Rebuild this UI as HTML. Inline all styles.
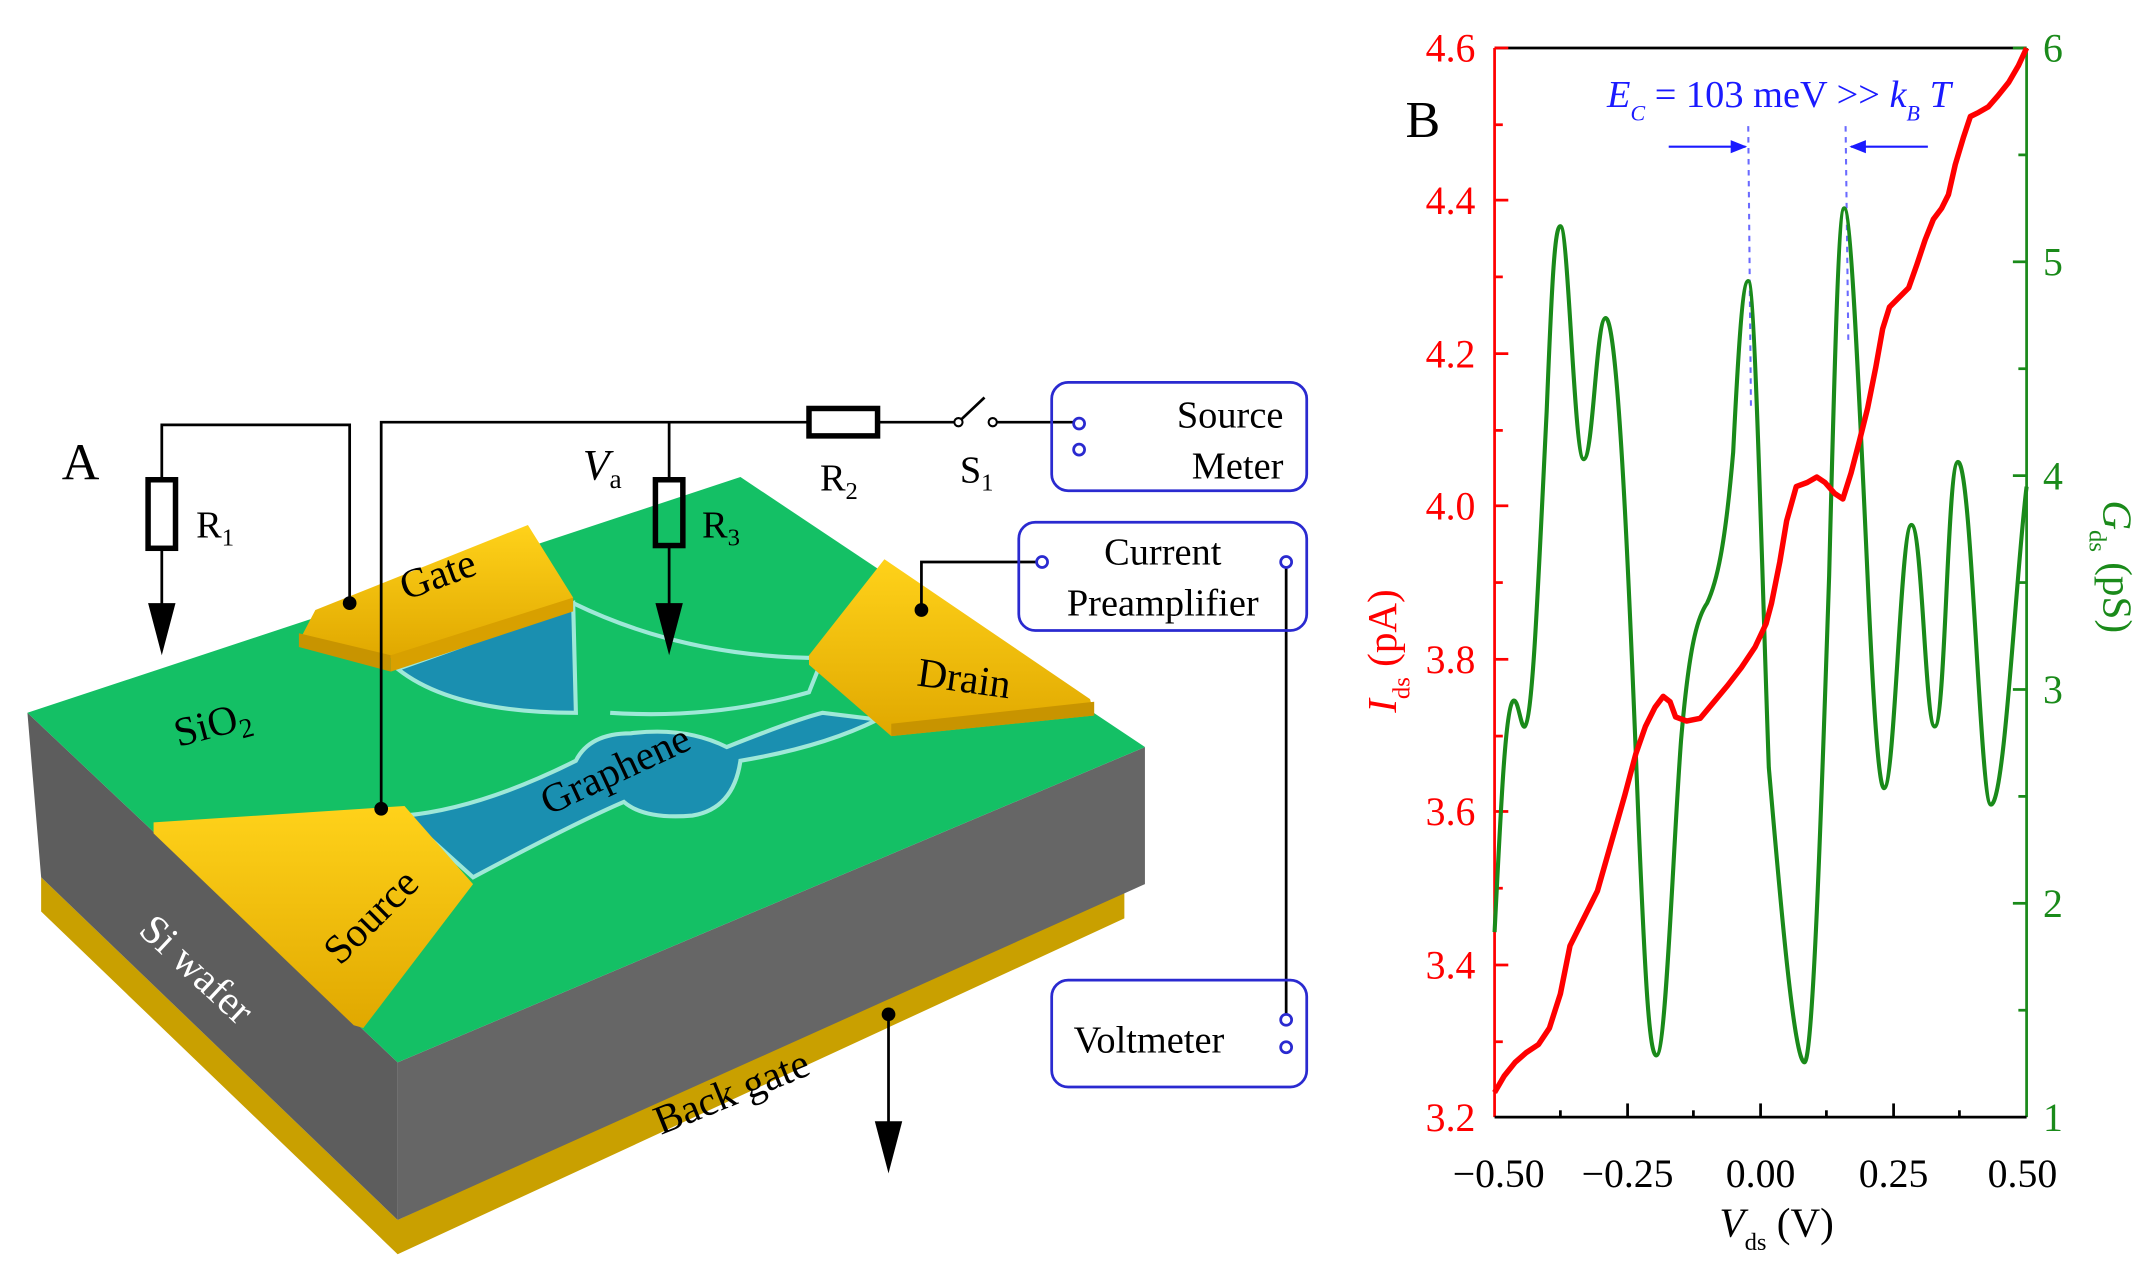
<!DOCTYPE html>
<html><head><meta charset="utf-8"><style>
html,body{margin:0;padding:0;background:#fff;}
svg{display:block;}
text{font-family:"Liberation Serif",serif;}
</style></head><body>
<svg width="2150" height="1283" viewBox="0 0 1568 936" preserveAspectRatio="none" xmlns="http://www.w3.org/2000/svg">
<defs>
<linearGradient id="gold" x1="0" y1="0" x2="0" y2="1"><stop offset="0" stop-color="#ffd21a"/><stop offset="1" stop-color="#e0a800"/></linearGradient>
<marker id="ah" viewBox="0 0 10 10" refX="9" refY="5" markerWidth="8" markerHeight="8" orient="auto"><path d="M0,1 L10,5 L0,9 z" fill="#1a1aff"/></marker>
</defs>
<polygon points="30,640 290,890 820,645 820,670 290,915 30,665" fill="#c9a000"/>
<polygon points="20,520 290,775 290,890 30,640" fill="#5d5d5d"/>
<polygon points="290,775 835,545 835,645 290,890" fill="#666"/>
<polygon points="20,520 540,348 835,545 290,775" fill="#14c065"/>
<path d="M290,488 Q330,520 420,520 L418,440 Q370,460 290,488 z" fill="#1a8fb0" stroke="#9fe8d8" stroke-width="3"/>
<path d="M295,595 Q350,590 420,555 Q430,535 460,535 Q500,530 530,545 Q580,525 600,520 L640,525 Q600,545 540,555 Q535,590 505,595 Q470,598 455,585 Q420,600 345,640 z" fill="#1a8fb0" stroke="#9fe8d8" stroke-width="3"/>
<path d="M418,440 Q500,480 600,480 L590,505 Q520,525 445,520" fill="none" stroke="#9fe8d8" stroke-width="3"/>
<polygon points="230,445 385,383 418,436 410,442 285,480 218,468" fill="url(#gold)"/>
<polygon points="218,462 285,478 285,490 218,472" fill="#c89400"/>
<polygon points="285,478 418,436 418,446 285,490" fill="#d8a000"/>
<polygon points="112,600 295,588 345,645 265,750 258,748 112,608" fill="url(#gold)"/>
<polygon points="590,478 645,408 795,510 798,522 650,537 590,485" fill="url(#gold)"/>
<polygon points="650,528 798,512 798,522 650,537" fill="#c89400"/>
<text x="45" y="350" font-size="38">A</text>
<text x="0" y="0" font-size="30" transform="translate(296,438) rotate(-20)">Gate</text>
<text x="0" y="0" font-size="30" transform="translate(668,500) rotate(8)">Drain</text>
<text x="0" y="0" font-size="30" transform="translate(130,545) rotate(-15)">SiO<tspan font-size="20" dy="6">2</tspan></text>
<text x="0" y="0" font-size="30" transform="translate(400,595) rotate(-25)">Graphene</text>
<text x="0" y="0" font-size="30" transform="translate(248,705) rotate(-45)">Source</text>
<text x="0" y="0" font-size="30" fill="#fff" transform="translate(100,680) rotate(43)">Si wafer</text>
<text x="0" y="0" font-size="30" transform="translate(482,828) rotate(-22)">Back gate</text>
<g stroke="#000" stroke-width="2" fill="none">
<polyline points="255,440 255,310 118,310 118,350"/>
<rect x="108" y="350" width="20" height="50" stroke-width="4"/>
<line x1="118" y1="400" x2="118" y2="445"/>
<polyline points="278,590 278,308 590,308"/>
<rect x="590" y="298" width="50" height="20" stroke-width="4"/>
<line x1="640" y1="308" x2="697" y2="308"/>
<line x1="700" y1="307" x2="718" y2="290"/>
<line x1="724" y1="308" x2="783" y2="308"/>
<line x1="488" y1="308" x2="488" y2="350"/>
<rect x="478" y="350" width="20" height="48" stroke-width="4"/>
<line x1="488" y1="398" x2="488" y2="445"/>
<polyline points="672,445 672,410 756,410"/>
<line x1="938" y1="414" x2="938" y2="740"/>
<line x1="648" y1="740" x2="648" y2="820"/>
</g>
<circle cx="699" cy="308" r="3" fill="#fff" stroke="#000" stroke-width="1.5"/>
<circle cx="724" cy="308" r="3" fill="#fff" stroke="#000" stroke-width="1.5"/>
<polygon points="108,440 128,440 118,478" fill="#000"/>
<polygon points="478,440 498,440 488,478" fill="#000"/>
<polygon points="638,818 658,818 648,856" fill="#000"/>
<g fill="#000"><circle cx="255" cy="440" r="5"/><circle cx="278" cy="590" r="5"/><circle cx="672" cy="445" r="5"/><circle cx="648" cy="740" r="5"/></g>
<text x="15" y="0" font-size="28" transform="translate(128,392)">R<tspan font-size="18" dy="6">1</tspan></text>
<text x="512" y="392" font-size="28">R<tspan font-size="18" dy="6">3</tspan></text>
<text x="598" y="358" font-size="28">R<tspan font-size="18" dy="6">2</tspan></text>
<text x="700" y="352" font-size="28">S<tspan font-size="18" dy="6">1</tspan></text>
<text x="425" y="350" font-size="32" font-style="italic">V<tspan font-size="20" font-style="normal" dy="6">a</tspan></text>
<g stroke="#2a2ad0" stroke-width="2" fill="none">
<rect x="767" y="279" width="186" height="79" rx="12"/>
<rect x="743" y="381" width="210" height="79" rx="12"/>
<rect x="767" y="715" width="186" height="78" rx="12"/>
<circle cx="787" cy="309" r="4"/><circle cx="787" cy="328" r="4"/>
<circle cx="760" cy="410" r="4"/><circle cx="938" cy="410" r="4"/>
<circle cx="938" cy="744" r="4"/><circle cx="938" cy="764" r="4"/>
</g>
<text x="936" y="312" font-size="28" text-anchor="end">Source</text>
<text x="936" y="349" font-size="28" text-anchor="end">Meter</text>
<text x="848" y="412" font-size="28" text-anchor="middle">Current</text>
<text x="848" y="449" font-size="28" text-anchor="middle">Preamplifier</text>
<text x="783" y="768" font-size="28">Voltmeter</text>
<line x1="1090" y1="35" x2="1478" y2="35" stroke="#000" stroke-width="2"/>
<line x1="1090" y1="35" x2="1090" y2="815" stroke="#f00" stroke-width="2"/>
<line x1="1478" y1="35" x2="1478" y2="815" stroke="#1a8a1a" stroke-width="2"/>
<line x1="1090" y1="815" x2="1478" y2="815" stroke="#000" stroke-width="2"/>
<g stroke="#f00" stroke-width="2">
<line x1="1090" y1="35" x2="1100" y2="35"/><line x1="1090" y1="91" x2="1096" y2="91"/>
<line x1="1090" y1="146" x2="1100" y2="146"/><line x1="1090" y1="202" x2="1096" y2="202"/>
<line x1="1090" y1="258" x2="1100" y2="258"/><line x1="1090" y1="314" x2="1096" y2="314"/>
<line x1="1090" y1="369" x2="1100" y2="369"/><line x1="1090" y1="425" x2="1096" y2="425"/>
<line x1="1090" y1="481" x2="1100" y2="481"/><line x1="1090" y1="537" x2="1096" y2="537"/>
<line x1="1090" y1="592" x2="1100" y2="592"/><line x1="1090" y1="648" x2="1096" y2="648"/>
<line x1="1090" y1="704" x2="1100" y2="704"/><line x1="1090" y1="760" x2="1096" y2="760"/>
</g>
<g stroke="#1a8a1a" stroke-width="2">
<line x1="1468" y1="35" x2="1478" y2="35"/><line x1="1472" y1="113" x2="1478" y2="113"/>
<line x1="1468" y1="191" x2="1478" y2="191"/><line x1="1472" y1="269" x2="1478" y2="269"/>
<line x1="1468" y1="347" x2="1478" y2="347"/><line x1="1472" y1="425" x2="1478" y2="425"/>
<line x1="1468" y1="503" x2="1478" y2="503"/><line x1="1472" y1="581" x2="1478" y2="581"/>
<line x1="1468" y1="659" x2="1478" y2="659"/><line x1="1472" y1="737" x2="1478" y2="737"/>
</g>
<g stroke="#000" stroke-width="2">
<line x1="1187" y1="815" x2="1187" y2="805"/><line x1="1284" y1="815" x2="1284" y2="805"/>
<line x1="1381" y1="815" x2="1381" y2="805"/>
<line x1="1138" y1="815" x2="1138" y2="810"/><line x1="1235" y1="815" x2="1235" y2="810"/>
<line x1="1332" y1="815" x2="1332" y2="810"/><line x1="1429" y1="815" x2="1429" y2="810"/>
</g>
<g fill="#f00" font-size="29" text-anchor="end">
<text x="1076" y="45">4.6</text><text x="1076" y="156">4.4</text><text x="1076" y="268">4.2</text>
<text x="1076" y="379">4.0</text><text x="1076" y="491">3.8</text><text x="1076" y="602">3.6</text>
<text x="1076" y="714">3.4</text><text x="1076" y="825">3.2</text>
</g>
<g fill="#1a8a1a" font-size="29">
<text x="1490" y="45">6</text><text x="1490" y="201">5</text><text x="1490" y="357">4</text>
<text x="1490" y="513">3</text><text x="1490" y="669">2</text><text x="1490" y="825">1</text>
</g>
<g font-size="29" text-anchor="middle">
<text x="1093" y="866">−0.50</text><text x="1187" y="866">−0.25</text><text x="1284" y="866">0.00</text>
<text x="1381" y="866">0.25</text><text x="1475" y="866">0.50</text>
</g>
<text x="1254" y="902" font-size="30"><tspan font-style="italic">V</tspan><tspan font-size="18" dy="10">ds</tspan><tspan dy="-10"> (V)</tspan></text>
<text transform="translate(1018,520) rotate(-90)" font-size="30" fill="#f00"><tspan font-style="italic">I</tspan><tspan font-size="18" dy="10">ds</tspan><tspan dy="-10"> (pA)</tspan></text>
<text transform="translate(1534,365) rotate(90)" font-size="30" fill="#1a8a1a"><tspan font-style="italic">G</tspan><tspan font-size="18" dy="10">ds</tspan><tspan dy="-10"> (pS)</tspan></text>
<text x="1025" y="100" font-size="38">B</text>
<text x="1172" y="78" font-size="28" fill="#1a1aff"><tspan font-style="italic">E</tspan><tspan font-size="16" dy="10" font-style="italic">C</tspan><tspan dy="-10"> = 103 meV &gt;&gt; </tspan><tspan font-style="italic">k</tspan><tspan font-size="16" dy="10" font-style="italic">B</tspan><tspan dy="-10" font-style="italic"> T</tspan></text>
<g stroke="#6a6aff" stroke-width="1.5" stroke-dasharray="4,4">
<line x1="1275" y1="92" x2="1277" y2="300"/><line x1="1346" y1="92" x2="1348" y2="250"/>
</g>
<line x1="1217" y1="107" x2="1273" y2="107" stroke="#1a1aff" stroke-width="1.5" marker-end="url(#ah)"/>
<line x1="1406" y1="107" x2="1350" y2="107" stroke="#1a1aff" stroke-width="1.5" marker-end="url(#ah)"/>
<path d="M1090,680 C1095,580 1098,520 1103,512 C1107,506 1109,532 1112,530 C1118,525 1122,420 1128,300 C1132,200 1134,165 1138,165 C1144,165 1148,335 1155,335 C1162,335 1164,232 1171,232 C1180,232 1188,420 1195,600 C1200,720 1203,770 1208,770 C1215,770 1220,620 1226,540 C1232,470 1238,450 1245,440 C1252,425 1258,400 1264,330 C1268,250 1271,205 1275,205 C1280,205 1285,420 1290,560 C1297,640 1308,775 1316,775 C1322,775 1328,600 1334,420 C1338,260 1341,152 1345,152 C1350,152 1356,290 1362,420 C1366,510 1370,575 1374,575 C1382,575 1386,383 1394,383 C1402,383 1404,530 1411,530 C1419,530 1420,337 1428,337 C1438,337 1444,587 1452,587 C1462,587 1470,420 1478,355" fill="none" stroke="#1a8a1a" stroke-width="3"/>
<polyline points="1090,797 1097,785 1105,775 1113,768 1122,762 1130,750 1138,725 1145,690 1155,670 1165,650 1175,615 1185,580 1193,550 1200,530 1207,516 1213,508 1218,512 1222,523 1230,526 1240,524 1250,512 1260,500 1270,487 1280,472 1288,455 1292,440 1298,410 1303,380 1310,355 1318,352 1325,348 1331,352 1338,360 1344,364 1350,345 1356,322 1362,298 1368,268 1373,240 1378,224 1385,217 1392,210 1398,193 1404,175 1410,160 1416,152 1421,142 1426,120 1432,100 1437,85 1443,82 1450,78 1457,70 1465,60 1472,48 1478,35" fill="none" stroke="#f00" stroke-width="4" stroke-linejoin="round"/>
</svg>
</body></html>
